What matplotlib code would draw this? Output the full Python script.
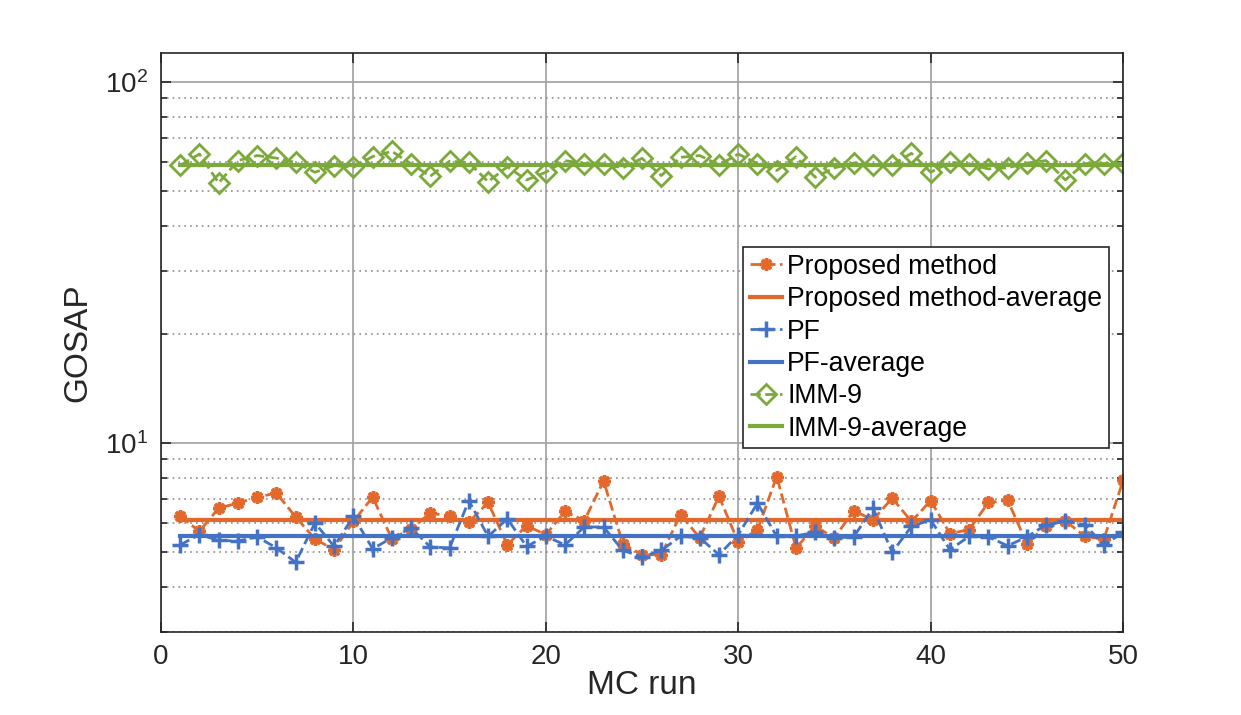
#!/usr/bin/env python3
"""GOSAP per Monte Carlo run for three trackers, log-scale y axis."""
import numpy as np
import matplotlib
matplotlib.use("Agg")
import matplotlib.pyplot as plt
from matplotlib.ticker import LogLocator, NullFormatter

runs = list(range(1, 51))

proposed = [6.26, 5.69, 6.60, 6.81, 7.08, 7.26, 6.24, 5.42, 5.06, 6.06,
            7.08, 5.42, 5.78, 6.40, 6.26, 6.03, 6.84, 5.22, 5.90, 5.57,
            6.46, 6.09, 7.85, 5.26, 4.90, 4.90, 6.33, 5.46, 7.11, 5.31,
            5.75, 8.07, 5.12, 5.87, 5.46, 6.49, 6.12, 7.03, 6.06, 6.92,
            5.61, 5.75, 6.84, 6.94, 5.26, 5.90, 6.09, 5.51, 5.41, 7.87]

pf = [5.22, 5.57, 5.37, 5.35, 5.49, 5.12, 4.67, 6.00, 5.17, 6.26,
      5.09, 5.46, 5.81, 5.15, 5.12, 6.92, 5.51, 6.16, 5.17, 5.51,
      5.22, 5.85, 5.85, 5.04, 4.83, 5.04, 5.51, 5.46, 4.90, 5.57,
      6.81, 5.51, 5.53, 5.65, 5.46, 5.49, 6.60, 4.98, 5.87, 6.12,
      5.06, 5.51, 5.49, 5.19, 5.49, 5.94, 6.06, 5.94, 5.22, 5.65]

imm9 = [58.7, 63.1, 52.5, 60.5, 62.5, 61.5, 59.8, 56.2, 58.6, 58.0,
        62.1, 64.2, 59.3, 54.8, 60.3, 59.8, 52.9, 58.2, 53.5, 56.2,
        60.5, 59.4, 59.3, 57.8, 61.4, 55.0, 61.8, 62.5, 58.9, 63.1,
        59.4, 56.8, 62.0, 54.4, 57.8, 59.6, 58.9, 58.9, 63.4, 56.2,
        59.8, 59.3, 57.4, 57.8, 59.6, 60.5, 53.5, 59.4, 59.4, 59.6]

ORANGE = "#E2692B"
BLUE = "#4472C4"
GREEN = "#7BAA3A"
DARK = "#262626"

plt.rcParams["font.family"] = ["Liberation Sans", "DejaVu Sans"]


def main():
    fig = plt.figure(figsize=(12.41, 7.15), dpi=100)
    ax = fig.add_axes([0.1297, 0.1165, 0.7753, 0.809])

    ax.plot(runs, proposed, color=ORANGE, ls="--", lw=2,
            marker=(8, 2, 0), ms=9, mew=2.5, label="Proposed method")
    ax.plot(runs, [np.mean(proposed)] * len(runs), color=ORANGE, lw=3,
            label="Proposed method-average")
    ax.plot(runs, pf, color=BLUE, ls="--", lw=2,
            marker="+", ms=11, mew=2.5, label="PF")
    ax.plot(runs, [np.mean(pf)] * len(runs), color=BLUE, lw=3,
            label="PF-average")
    ax.plot(runs, imm9, color=GREEN, ls="--", lw=2,
            marker="D", ms=10, mew=2, mfc="none", label="IMM-9")
    ax.plot(runs, [np.mean(imm9)] * len(runs), color=GREEN, lw=3,
            label="IMM-9-average")

    ax.set_yscale("log")
    ax.set_xlim(0, 50)
    ax.set_ylim(3, 120)
    ax.set_xticks([0, 10, 20, 30, 40, 50])
    ax.yaxis.set_major_locator(LogLocator(base=10, numticks=10))
    ax.yaxis.set_minor_locator(LogLocator(base=10, subs=np.arange(2, 10), numticks=10))
    ax.yaxis.set_minor_formatter(NullFormatter())

    ax.grid(True, which="major", color="#a6a6a6", lw=1.3, ls="-")
    ax.grid(True, which="minor", axis="y", color="#8c8c8c", lw=1.2, ls=(0, (1, 2.5)))
    ax.set_axisbelow(True)

    ax.tick_params(which="both", direction="in", top=True, right=True,
                   colors=DARK, labelsize=20, width=1.2)
    ax.tick_params(which="major", length=7, pad=9)
    ax.tick_params(which="minor", length=4)
    for spine in ax.spines.values():
        spine.set_color(DARK)
        spine.set_linewidth(1.2)

    ax.set_xlabel("MC run", fontsize=24, color=DARK, labelpad=0)
    ax.set_ylabel("GOSAP", fontsize=24, color=DARK, labelpad=9)

    leg = ax.legend(loc="upper left", bbox_to_anchor=(0.605, 0.665),
                    borderaxespad=0, fontsize=19.2, handlelength=1.2,
                    handletextpad=0.2, labelspacing=0.24, borderpad=0.25,
                    fancybox=False, framealpha=1, edgecolor=DARK)
    leg.get_frame().set_linewidth(1.2)

    fig.savefig("out.png", dpi=100, facecolor="white")
    plt.close(fig)


if __name__ == "__main__":
    main()
